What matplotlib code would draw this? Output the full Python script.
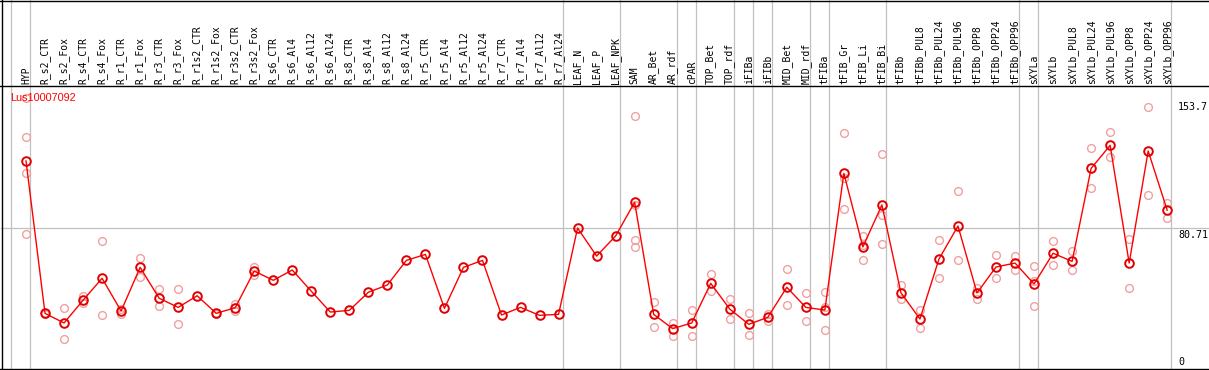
import matplotlib
matplotlib.use("Agg")
import matplotlib.pyplot as plt
from matplotlib.lines import Line2D
from matplotlib.transforms import blended_transform_factory

# ---------------- data ----------------
categories = ["HYP", "R_s2_CTR", "R_s2_Fox", "R_s4_CTR", "R_s4_Fox", "R_r1_CTR", "R_r1_Fox",
              "R_r3_CTR", "R_r3_Fox", "R_r1s2_CTR", "R_r1s2_Fox", "R_r3s2_CTR", "R_r3s2_Fox",
              "R_s6_CTR", "R_s6_Al4", "R_s6_Al12", "R_s6_Al24", "R_s8_CTR", "R_s8_Al4",
              "R_s8_Al12", "R_s8_Al24", "R_r5_CTR", "R_r5_Al4", "R_r5_Al12", "R_r5_Al24",
              "R_r7_CTR", "R_r7_Al4", "R_r7_Al12", "R_r7_Al24", "LEAF_N", "LEAF_P", "LEAF_NPK",
              "SAM", "AR_Bet", "AR_rdf", "cPAR", "TOP_Bet", "TOP_rdf", "iFIBa", "iFIBb",
              "MID_Bet", "MID_rdf", "tFIBa", "tFIB_Gr", "tFIB_Li", "tFIB_Bi", "tFIBb",
              "tFIBb_PUL8", "tFIBb_PUL24", "tFIBb_PUL96", "tFIBb_OPP8", "tFIBb_OPP24",
              "tFIBb_OPP96", "sXYLa", "sXYLb", "sXYLb_PUL8", "sXYLb_PUL24", "sXYLb_PUL96",
              "sXYLb_OPP8", "sXYLb_OPP24", "sXYLb_OPP96"]

means = [121.1, 29.3, 23.5, 37.2, 50.4, 30.7, 57.0, 38.4, 32.9, 39.9, 29.3, 32.7, 54.8,
         49.2, 55.4, 42.6, 30.1, 31.1, 42.0, 46.4, 61.2, 64.8, 32.3, 57.0, 61.2,
         28.3, 32.9, 28.1, 28.7, 80.7, 63.8, 75.9,
         96.2, 28.7, 20.1, 23.5, 47.4, 31.9, 22.7, 26.9, 45.0, 32.9, 31.3,
         113.6, 69.3, 94.6, 41.7, 25.9, 62.0, 81.9, 41.6, 57.2, 59.6,
         47.0, 65.5, 60.6, 116.6, 130.5, 59.6, 127.1, 91.4]

replicates = [
    [158.9, 135.5, 113.7, 77.1],  # HYP
    [29.6, 29.0], [32.3, 13.9], [39.9, 35.4], [72.7, 28.1], [31.7, 28.9], [62.6, 51.0],
    [43.8, 33.5], [43.8, 22.7], [], [29.8, 28.8], [34.8, 30.9], [57.0, 52.4],
    [], [], [], [], [], [], [], [], [], [], [], [], [], [], [], [],
    [], [], [],
    [148.2, 94.6, 73.5, 69.1],  # SAM
    [36.1, 20.9], [23.3, 15.9], [31.3, 15.5], [53.0, 42.6], [37.8, 25.9],
    [29.5, 16.1], [29.1, 24.9], [55.8, 34.1], [41.6, 24.7], [42.2, 19.3, 32.9],
    [137.9, 110.6, 92.2], [76.1, 70.3, 61.4], [125.3, 88.5, 71.1],
    [46.4, 37.8], [31.3, 20.5], [73.3, 50.4], [102.8, 61.2], [44.4, 38.1],
    [64.2, 50.4], [63.8, 55.2],
    [57.6, 49.0, 33.5], [72.7, 58.2], [66.9, 55.2], [128.7, 104.6], [138.5, 123.3],
    [74.1, 44.4], [153.7, 100.4], [95.8, 86.7],
]

group_starts = [0, 1, 29, 32, 35, 36, 38, 39, 40, 42, 43, 46, 53, 54, 61]
ref_value = 80.71
y_tick_values = [153.7, 80.71, 0]
y_tick_labels = ["153.7", "80.71", "0"]
gene_name = "Lus10007092"

# ---------------- layout ----------------
W, H = 1209, 370
fig = plt.figure(figsize=(W / 100, H / 100), dpi=100)
fig.patch.set_facecolor("white")

plot_top, plot_bot = 86, 369
ax = fig.add_axes([1 / W, (H - plot_bot) / H, 1170 / W, (plot_bot - plot_top) / H])
X0, DX = 26.0, 19.02
YS, Y0 = 1.6603, 362.0
ax.set_xlim((1 - X0) / DX, (1171 - X0) / DX)
ax.set_ylim((Y0 - plot_bot) / YS, (Y0 - plot_top) / YS)
ax.axis("off")

tr_xdata = blended_transform_factory(ax.transData, fig.transFigure)
tr_ydata = blended_transform_factory(fig.transFigure, ax.transData)

grey = "#c0c0c0"
# group separators (behind the data)
for g in group_starts:
    fig.add_artist(Line2D([g - 0.78, g - 0.78], [(H - plot_bot) / H, 1.0],
                          transform=tr_xdata, color=grey, lw=0.9, zorder=-2))
# reference horizontal line
fig.add_artist(Line2D([1 / W, 1.0], [ref_value, ref_value], transform=tr_ydata,
                      color=grey, lw=0.9, zorder=-2))

# black frame lines
for yy in [0.5, plot_top, plot_bot]:
    fig.add_artist(Line2D([0, 1], [1 - yy / H, 1 - yy / H], transform=fig.transFigure,
                          color="black", lw=1.0, zorder=5))
fig.add_artist(Line2D([1.5 / W, 1.5 / W], [(H - plot_bot) / H, 1], transform=fig.transFigure,
                      color="black", lw=1.0, zorder=5))

# replicate points
for i, reps in enumerate(replicates):
    if reps:
        ax.plot([i] * len(reps), reps, "o", mfc="none", mec="#f0a0a0", ms=5.6, mew=1.0,
                clip_on=False, zorder=3)

idx = list(range(len(categories)))
ax.plot(idx, means, "-", color="red", lw=1.0, zorder=4, clip_on=False)
ax.plot(idx, means, "o", mfc="none", mec="#e00000", ms=6.2, mew=1.4, zorder=5, clip_on=False)

# header labels
for i, name in enumerate(categories):
    ax.text(i, 1 - 84 / H, name, transform=tr_xdata, rotation=90, ha="center", va="bottom",
            family="DejaVu Sans Mono", fontsize=7, color="black")

# gene name
fig.text(10 / W, 1 - 98 / H, gene_name, color="red", fontsize=7.8,
         family="Liberation Sans", va="center", ha="left")

# right-side value labels
xr = (1178 - X0) / DX
for v, lab in zip(y_tick_values, y_tick_labels):
    if lab == "80.71":
        ax.annotate(lab, xy=(xr, v), xytext=(0, -2), textcoords="offset pixels",
                    va="top", ha="left", family="DejaVu Sans Mono", fontsize=7.2,
                    annotation_clip=False)
    else:
        ax.text(xr, v, lab, va="center", ha="left", family="DejaVu Sans Mono",
                fontsize=7.2, clip_on=False)

fig.savefig("out.png", dpi=100, facecolor="white")
